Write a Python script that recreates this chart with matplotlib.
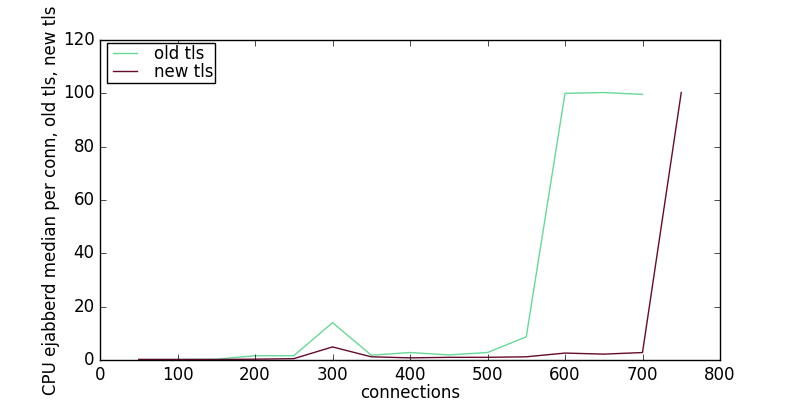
import matplotlib
matplotlib.use('Agg')
import matplotlib.pyplot as plt

# connections vs CPU usage of ejabberd
old_conn = [50, 100, 150, 200, 250, 300, 350, 400, 450, 500, 550, 600, 650, 700]
old_cpu = [0.2, 0.2, 0.3, 1.6, 1.6, 14.0, 1.8, 2.8, 1.9, 2.8, 8.7, 100.0, 100.3, 99.6]

new_conn = [50, 100, 150, 200, 250, 300, 350, 400, 450, 500, 550, 600, 650, 700, 750]
new_cpu = [0.2, 0.2, 0.2, 0.3, 0.5, 4.9, 1.2, 0.8, 1.0, 1.0, 1.2, 2.6, 2.2, 2.8, 100.3]

plt.style.use('classic')
plt.rcParams['figure.facecolor'] = 'white'
plt.rcParams['savefig.facecolor'] = 'white'

fig = plt.figure(figsize=(8, 4), dpi=100)
ax = fig.add_subplot(111)
ax.plot(old_conn, old_cpu, color='#66d998', label='old tls')
ax.plot(new_conn, new_cpu, color='#660a2e', label='new tls')
ax.set_xlim(0, 800)
ax.set_ylim(0, 120)
ax.set_xlabel('connections', labelpad=0)
ax.set_ylabel('CPU ejabberd median per conn, old tls, new tls', labelpad=2)
ax.legend(loc='upper left', bbox_to_anchor=(0.011, 0.99), borderaxespad=0,
          fontsize=12, borderpad=0.1, labelspacing=0.0, handlelength=2.0,
          handletextpad=0.75)

fig.savefig('out.png', dpi=100)
